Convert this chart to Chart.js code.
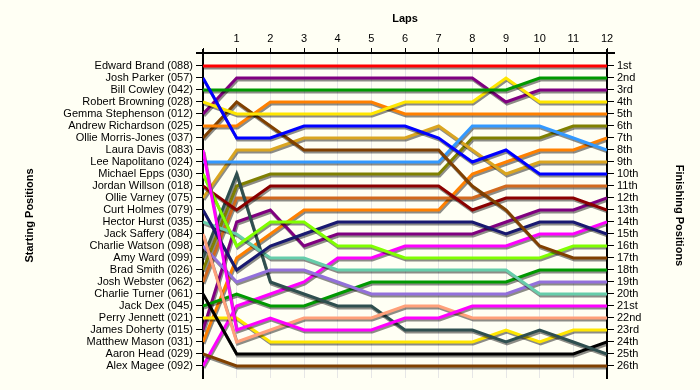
<!DOCTYPE html>
<html>
<head>
<meta charset="utf-8">
<script src="https://cdn.jsdelivr.net/npm/chart.js@4.4.1/dist/chart.umd.min.js"></script>
<style>
  body { margin: 0; background: #fffff4; }
  #wrap { width: 700px; height: 390px; position: relative; }
</style>
</head>
<body>
<div id="wrap"><canvas id="lapChart"></canvas></div>
<script>
const laps = [0, 1, 2, 3, 4, 5, 6, 7, 8, 9, 10, 11, 12];

const drivers = [
    'Edward Brand (088)', 'Josh Parker (057)', 'Bill Cowley (042)', 'Robert Browning (028)',
    'Gemma Stephenson (012)', 'Andrew Richardson (025)', 'Ollie Morris-Jones (037)', 'Laura Davis (083)',
    'Lee Napolitano (024)', 'Michael Epps (030)', 'Jordan Willson (018)', 'Ollie Varney (075)',
    'Curt Holmes (079)', 'Hector Hurst (035)', 'Jack Saffery (084)', 'Charlie Watson (098)',
    'Amy Ward (099)', 'Brad Smith (026)', 'Josh Webster (062)', 'Charlie Turner (061)',
    'Jack Dex (045)', 'Perry Jennett (021)', 'James Doherty (015)', 'Matthew Mason (031)',
    'Aaron Head (029)', 'Alex Magee (092)'
];

const finishLabels = [
    '1st', '2nd', '3rd', '4th', '5th', '6th', '7th', '8th', '9th', '10th', '11th', '12th', '13th',
    '14th', '15th', '16th', '17th', '18th', '19th', '20th', '21st', '22nd', '23rd', '24th', '25th', '26th'
];

// position of each driver after each lap (lap 0 = grid)
const lapPositions = [
    [1, 1, 1, 1, 1, 1, 1, 1, 1, 1, 1, 1, 1],
    [2, 7, 7, 6, 6, 6, 6, 7, 9, 8, 10, 10, 10],
    [3, 3, 3, 3, 3, 3, 3, 3, 3, 3, 2, 2, 2],
    [4, 5, 5, 5, 5, 5, 4, 4, 4, 2, 4, 4, 4],
    [5, 2, 2, 2, 2, 2, 2, 2, 2, 4, 3, 3, 3],
    [6, 6, 4, 4, 4, 4, 5, 5, 5, 5, 5, 5, 5],
    [7, 4, 6, 8, 8, 8, 8, 8, 11, 13, 16, 17, 17],
    [8, 23, 22, 23, 23, 23, 22, 22, 21, 21, 21, 21, 21],
    [9, 9, 9, 9, 9, 9, 9, 9, 6, 6, 6, 7, 8],
    [10, 16, 14, 14, 16, 16, 17, 17, 17, 17, 17, 16, 16],
    [11, 13, 11, 11, 11, 11, 11, 11, 13, 12, 12, 12, 13],
    [12, 8, 8, 7, 7, 7, 7, 6, 8, 10, 9, 9, 9],
    [13, 18, 16, 15, 14, 14, 14, 14, 14, 15, 14, 14, 15],
    [14, 15, 17, 17, 18, 18, 18, 18, 18, 18, 20, 20, 20],
    [15, 24, 23, 22, 22, 22, 21, 21, 22, 22, 22, 22, 22],
    [16, 19, 18, 18, 19, 20, 20, 20, 20, 20, 19, 19, 19],
    [17, 10, 19, 20, 21, 21, 23, 23, 23, 24, 23, 24, 25],
    [18, 11, 10, 10, 10, 10, 10, 10, 7, 7, 7, 6, 6],
    [19, 12, 12, 12, 12, 12, 12, 12, 12, 11, 11, 11, 11],
    [20, 25, 25, 25, 25, 25, 25, 25, 25, 25, 25, 25, 24],
    [21, 20, 21, 21, 20, 19, 19, 19, 19, 19, 18, 18, 18],
    [22, 22, 24, 24, 24, 24, 24, 24, 24, 23, 24, 23, 23],
    [23, 14, 13, 16, 15, 15, 15, 15, 15, 14, 13, 13, 12],
    [24, 17, 15, 13, 13, 13, 13, 13, 10, 9, 8, 8, 7],
    [25, 26, 26, 26, 26, 26, 26, 26, 26, 26, 26, 26, 26],
    [26, 21, 20, 19, 17, 17, 16, 16, 16, 16, 15, 15, 14]
];

const lineColours = [
    '#ff0000', '#0000ff', '#009900', '#ffe600', '#800080', '#ff8000', '#804000', '#ff00ff',
    '#3399ff', '#80ff00', '#8b0000', '#daa520', '#191970', '#66cdaa', '#ffa07a', '#9370db',
    '#2f4f4f', '#808000', '#d2691e', '#000000', '#009900', '#ffe600', '#800080', '#ff8000',
    '#804000', '#ff00ff'
];

const FONT = '"Liberation Sans", Arial, sans-serif';

const rowTicks = scale => { scale.ticks = drivers.map((d, i) => ({ value: i + 1 })); };

// grey drop shadow under each line
const lineShadow = {
    id: 'lineShadow',
    beforeDatasetDraw(chart) {
        const c = chart.ctx;
        c.save();
        c.shadowColor = 'rgba(0,0,0,0.45)';
        c.shadowOffsetX = 1;
        c.shadowOffsetY = 2;
        c.shadowBlur = 0;
    },
    afterDatasetDraw(chart) { chart.ctx.restore(); }
};

const axisTitles = {
    id: 'axisTitles',
    afterDraw(chart) {
        const c = chart.ctx;
        const a = chart.chartArea;
        const midY = (a.top + a.bottom) / 2;

        // top axis line runs past the side axes, like the original
        c.save();
        c.strokeStyle = '#000';
        c.lineWidth = 2;
        c.beginPath();
        c.moveTo(a.left - 7, a.top);
        c.lineTo(a.right + 8, a.top);
        c.moveTo(a.left, a.top - 4);
        c.lineTo(a.left, a.top);
        c.moveTo(a.right, a.top - 4);
        c.lineTo(a.right, a.top);
        c.stroke();
        c.restore();

        c.save();
        c.fillStyle = '#000';
        c.font = 'bold 11px ' + FONT;
        c.textAlign = 'center';
        c.textBaseline = 'middle';
        c.fillText('Laps', (a.left + a.right) / 2, 19);
        c.translate(30, midY);
        c.rotate(-Math.PI / 2);
        c.fillText('Starting Positions', 0, 0);
        c.restore();
        c.save();
        c.fillStyle = '#000';
        c.font = 'bold 11px ' + FONT;
        c.textAlign = 'center';
        c.textBaseline = 'middle';
        c.translate(679, midY);
        c.rotate(Math.PI / 2);
        c.fillText('Finishing Positions', 0, 0);
        c.restore();
    }
};

const datasets = drivers.map((name, i) => ({
    label: name,
    data: laps.map((lap, j) => ({ x: lap, y: lapPositions[i][j] })),
    borderColor: lineColours[i],
    backgroundColor: lineColours[i],
    borderWidth: 3,
    pointRadius: 0,
    tension: 0,
    fill: false
}));

const yRange = { min: -0.0833, max: 27 };

new Chart(document.getElementById('lapChart'), {
    type: 'line',
    data: { datasets },
    options: {
        responsive: true,
        maintainAspectRatio: false,
        animation: false,
        layout: { padding: { left: 0, right: 0, top: 0, bottom: 12 } },
        plugins: { legend: { display: false }, tooltip: { enabled: false } },
        scales: {
            x: {
                type: 'linear',
                position: 'top',
                min: 0,
                max: 12,
                afterFit: s => { s.height = 53; },
                afterBuildTicks: s => { s.ticks = laps.map(v => ({ value: v })); },
                ticks: {
                    autoSkip: false,
                    maxRotation: 0,
                    padding: 2,
                    color: '#000',
                    font: { family: FONT, size: 11 },
                    callback: v => (v === 0 ? '' : String(v))
                },
                grid: { color: '#e6e6e6', tickColor: '#000', tickLength: 5 },
                border: { display: true, color: '#000', width: 2 }
            },
            y: {
                type: 'linear',
                position: 'left',
                reverse: true,
                min: yRange.min,
                max: yRange.max,
                afterFit: s => { s.width = 203; },
                afterBuildTicks: rowTicks,
                ticks: {
                    autoSkip: false,
                    padding: 3,
                    color: '#000',
                    font: { family: FONT, size: 11 },
                    callback: v => drivers[v - 1] || ''
                },
                grid: { drawOnChartArea: false, tickColor: '#000', tickLength: 7 },
                border: { display: true, color: '#000', width: 2 }
            },
            y2: {
                type: 'linear',
                position: 'right',
                reverse: true,
                min: yRange.min,
                max: yRange.max,
                afterFit: s => { s.width = 93; },
                afterBuildTicks: rowTicks,
                ticks: {
                    autoSkip: false,
                    padding: 3,
                    color: '#000',
                    font: { family: FONT, size: 11 },
                    callback: v => finishLabels[v - 1] || ''
                },
                grid: { drawOnChartArea: false, tickColor: '#000', tickLength: 7 },
                border: { display: true, color: '#000', width: 2 }
            }
        }
    },
    plugins: [lineShadow, axisTitles]
});
</script>
</body>
</html>
